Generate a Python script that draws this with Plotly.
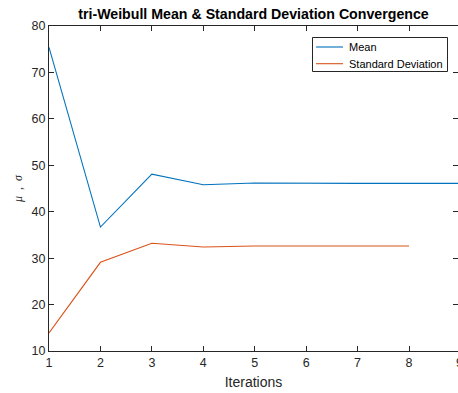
import plotly.graph_objects as go

iterations_mean = [1, 2, 3, 4, 5, 6, 7, 8, 9]
mean_vals = [75.4, 36.7, 48.1, 45.8, 46.2, 46.1, 46.1, 46.1, 46.1]
iterations_std = [1, 2, 3, 4, 5, 6, 7, 8]
std_vals = [13.9, 29.1, 33.2, 32.4, 32.6, 32.6, 32.6, 32.6]
x_ticks = [1, 2, 3, 4, 5, 6, 7, 8]
series_names = ["Mean", "Standard Deviation"]
series_colors = ["#0072BD", "#D95319"]

axis_col = "#262626"
L, T, W, H = 49, 26, 409, 325


def px(xp):
    return (xp - L) / W


def py(yp):
    return (T + H - yp) / H


fig = go.Figure()
fig.add_trace(go.Scatter(x=iterations_mean, y=mean_vals, mode="lines", name=series_names[0],
                         line=dict(color=series_colors[0], width=1.1)))
fig.add_trace(go.Scatter(x=iterations_std, y=std_vals, mode="lines", name=series_names[1],
                         line=dict(color=series_colors[1], width=1.1)))

fig.update_layout(
    width=458, height=393,
    margin=dict(l=L, r=0, t=T, b=393 - T - H),
    paper_bgcolor="white", plot_bgcolor="white",
    font=dict(family="Liberation Sans, Arial", color=axis_col, size=12),
    title=dict(text="<b>tri-Weibull Mean & Standard Deviation Convergence</b>",
               x=(L + W / 2) / 458, xanchor="center",
               y=1 - 14 / 393, yanchor="middle", yref="container",
               font=dict(size=14.2, color="#000000")),
    showlegend=False,
)

fig.update_xaxes(range=[1, 1 + W / (360 / 7)], tickvals=x_ticks, ticks="inside", ticklen=5,
                 showgrid=False, zeroline=False, showline=True, linecolor=axis_col,
                 linewidth=1, mirror="ticks", tickcolor=axis_col,
                 tickfont=dict(size=12.5, color=axis_col),
                 title=dict(text="Iterations", font=dict(size=14, color=axis_col), standoff=8))
fig.update_yaxes(range=[10, 80], dtick=10, ticks="inside", ticklen=5,
                 showgrid=False, zeroline=False, showline=True, linecolor=axis_col,
                 linewidth=1, mirror="ticks", tickcolor=axis_col,
                 tickfont=dict(size=12.5, color=axis_col),
                 title=dict(text="<i>μ</i>&nbsp;&nbsp;,&nbsp;&nbsp;<i>σ</i>",
                            font=dict(family="Liberation Serif, Times New Roman", size=12, color=axis_col),
                            standoff=6))

# partially visible last tick label
fig.add_annotation(x=px(460), y=0, xref="paper", yref="paper", text="9", showarrow=False,
                   xanchor="center", yanchor="top", yshift=-3,
                   font=dict(size=12.5, color=axis_col))

# legend box
fig.add_shape(type="rect", xref="paper", yref="paper",
              x0=px(312.5), x1=px(447.5), y0=py(71.5), y1=py(37.5),
              line=dict(color=axis_col, width=1), fillcolor="white", layer="above")
for i, (nm, col) in enumerate(zip(series_names, series_colors)):
    yy = 47 + i * 16.7
    fig.add_shape(type="line", xref="paper", yref="paper",
                  x0=px(316), x1=px(343), y0=py(yy), y1=py(yy),
                  line=dict(color=col, width=1.1), layer="above")
    fig.add_annotation(x=px(347), y=py(yy), xref="paper", yref="paper", text=nm,
                       showarrow=False, xanchor="left", yanchor="middle",
                       font=dict(size=11, color="#000000"))

fig.write_html("out.html")
